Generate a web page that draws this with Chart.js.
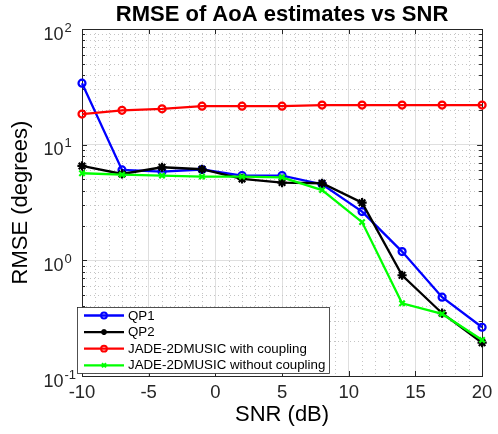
<!DOCTYPE html>
<html>
<head>
<meta charset="utf-8">
<script src="https://cdn.jsdelivr.net/npm/chart.js@4.4.1/dist/chart.umd.min.js"></script>
<style>
  html, body { margin: 0; padding: 0; background: #ffffff; }
  #wrap { width: 498px; height: 434px; }
</style>
</head>
<body>
<div id="wrap"><canvas id="c" width="498" height="434"></canvas></div>
<script>
// ---- data ----
const snr = [-10, -7, -4, -1, 2, 5, 8, 11, 14, 17, 20];
const qp1 = [34.0, 6.05, 5.85, 6.1, 5.4, 5.4, 4.55, 2.64, 1.19, 0.48, 0.264];
const qp2 = [6.55, 5.58, 6.38, 6.13, 5.06, 4.70, 4.64, 3.15, 0.743, 0.349, 0.194];
const jadeWith = [18.4, 19.8, 20.4, 21.5, 21.5, 21.5, 22.0, 22.0, 22.0, 22.0, 22.0];
const jadeWithout = [5.66, 5.51, 5.40, 5.29, 5.29, 5.22, 4.05, 2.14, 0.425, 0.344, 0.205];

const seriesLabels = ['QP1', 'QP2', 'JADE-2DMUSIC with coupling', 'JADE-2DMUSIC without coupling'];
const xTickValues = [-10, -5, 0, 5, 10, 15, 20];
const yTickExponents = [-1, 0, 1, 2];
const titleText = 'RMSE of AoA estimates vs SNR';
const xTitle = 'SNR (dB)';
const yTitle = 'RMSE (degrees)';

const FONT = '"Liberation Sans", Arial, Helvetica, sans-serif';
const AXIS_COLOR = '#262626';
const MAJOR_GRID = '#dfdfdf';
const MINOR_GRID = '#c4c4c4';

function pts(ys) { return snr.map((x, i) => ({ x: x, y: ys[i] })); }

function makeSet(label, color, style, data, order, radius) {
  return {
    label: label, data: pts(data), borderColor: color, backgroundColor: color,
    pointBorderColor: color, pointBackgroundColor: 'rgba(0,0,0,0)',
    pointStyle: style, pointRadius: radius, pointHoverRadius: radius,
    pointBorderWidth: 2.2, borderWidth: 2.3, tension: 0, fill: false,
    clip: false, order: order
  };
}

const datasets = [
  makeSet(seriesLabels[0], '#0000ff', 'circle', qp1, 4, 3.5),
  makeSet(seriesLabels[1], '#000000', 'star', qp2, 3, 4.6),
  makeSet(seriesLabels[2], '#ff0000', 'circle', jadeWith, 2, 3.5),
  makeSet(seriesLabels[3], '#00ff00', 'crossRot', jadeWithout, 1, 3.8)
];

const matlabAxes = {
  id: 'matlabAxes',
  beforeDatasetsDraw(chart) {
    const ctx = chart.ctx, a = chart.chartArea;
    const xs = chart.scales.x, ys = chart.scales.y;
    ctx.save();
    // minor dotted grid
    ctx.strokeStyle = MINOR_GRID;
    ctx.lineWidth = 1;
    ctx.setLineDash([1, 3]);
    for (let v = xs.min; v <= xs.max; v += 1) {
      if (v % 5 === 0) continue;
      const px = Math.round(xs.getPixelForValue(v)) + 0.5;
      ctx.beginPath(); ctx.moveTo(px, a.top); ctx.lineTo(px, a.bottom); ctx.stroke();
    }
    for (let e = -1; e < 2; e++) {
      for (let k = 2; k <= 9; k++) {
        const py = Math.round(ys.getPixelForValue(k * Math.pow(10, e))) + 0.5;
        ctx.beginPath(); ctx.moveTo(a.left, py); ctx.lineTo(a.right, py); ctx.stroke();
      }
    }
    ctx.setLineDash([]);
    // frame
    ctx.strokeStyle = AXIS_COLOR;
    ctx.lineWidth = 1;
    ctx.strokeRect(Math.round(a.left) + 0.5, Math.round(a.top) + 0.5,
                   Math.round(a.right - a.left), Math.round(a.bottom - a.top));
    // inside ticks
    ctx.beginPath();
    xTickValues.forEach(v => {
      const px = Math.round(xs.getPixelForValue(v)) + 0.5;
      ctx.moveTo(px, a.bottom); ctx.lineTo(px, a.bottom - 5);
      ctx.moveTo(px, a.top); ctx.lineTo(px, a.top + 5);
    });
    for (let e = -1; e <= 2; e++) {
      for (let k = 1; k <= 9; k++) {
        const val = k * Math.pow(10, e);
        if (val > 100.0001) break;
        const len = k === 1 ? 5 : 3;
        const py = Math.round(ys.getPixelForValue(val)) + 0.5;
        ctx.moveTo(a.left, py); ctx.lineTo(a.left + len, py);
        ctx.moveTo(a.right, py); ctx.lineTo(a.right - len, py);
      }
    }
    ctx.stroke();
    // y tick labels 10^n
    ctx.fillStyle = AXIS_COLOR;
    ctx.textBaseline = 'alphabetic';
    yTickExponents.forEach(e => {
      const py = ys.getPixelForValue(Math.pow(10, e));
      const baseRight = a.left - 18.5;
      ctx.font = '18px ' + FONT;
      ctx.textAlign = 'right';
      ctx.fillText('10', baseRight, py + 10.8);
      ctx.font = '13px ' + FONT;
      ctx.textAlign = 'left';
      ctx.fillText(String(e), baseRight + 1, py + 2.8);
    });
    ctx.restore();
  },
  afterDraw(chart) {
    const ctx = chart.ctx, a = chart.chartArea;
    const bx = a.left - 4.5, by = 307.5, bw = 252, bh = 66;
    ctx.save();
    ctx.fillStyle = '#ffffff';
    ctx.fillRect(bx, by, bw, bh);
    ctx.strokeStyle = AXIS_COLOR;
    ctx.lineWidth = 0.8;
    ctx.strokeRect(bx, by, bw, bh);
    chart.data.datasets.forEach((ds, i) => {
      const yy = by + 8 + i * 16.6;
      ctx.strokeStyle = ds.borderColor;
      ctx.lineWidth = 2.3;
      ctx.beginPath(); ctx.moveTo(bx + 6.5, yy); ctx.lineTo(bx + 46.5, yy); ctx.stroke();
      ctx.fillStyle = 'rgba(0,0,0,0)';
      ctx.lineWidth = 2;
      Chart.helpers.drawPoint(ctx, { pointStyle: ds.pointStyle, radius: 2.9, rotation: 0, borderWidth: 2 }, bx + 26.5, yy);
      ctx.fillStyle = '#000000';
      ctx.font = '13.3px ' + FONT;
      ctx.textAlign = 'left';
      ctx.textBaseline = 'middle';
      ctx.fillText(ds.label, bx + 50.5, yy + 0.5);
    });
    ctx.restore();
  }
};

new Chart(document.getElementById('c'), {
  type: 'line',
  data: { datasets: datasets },
  plugins: [matlabAxes],
  options: {
    responsive: false,
    animation: false,
    events: [],
    layout: { padding: { left: 0, right: 10, top: 0, bottom: 0 } },
    plugins: {
      legend: { display: false },
      tooltip: { enabled: false },
      title: {
        display: true, text: titleText, fullSize: false, color: '#000000',
        font: { family: FONT, size: 22, weight: 'bold' },
        padding: { top: 1.6, bottom: 1 }
      }
    },
    scales: {
      x: {
        type: 'linear', min: -10, max: 20,
        ticks: {
          stepSize: 5, autoSkip: false, maxRotation: 0, padding: 5.6,
          color: AXIS_COLOR, font: { family: FONT, size: 18.5 },
          callback: v => (xTickValues.includes(v) ? String(v) : '')
        },
        grid: { color: MAJOR_GRID, drawTicks: false, lineWidth: 1 },
        border: { display: false },
        title: {
          display: true, text: xTitle, color: '#000000',
          font: { family: FONT, size: 22 }, padding: { top: 0, bottom: 6 }
        },
        afterFit: s => { s.height = 58; }
      },
      y: {
        type: 'logarithmic', min: 0.1, max: 100,
        ticks: { display: false },
        grid: {
          drawTicks: false, lineWidth: 1,
          color: c => {
            const v = c.tick ? c.tick.value : 0;
            const l = Math.log10(v);
            return Math.abs(l - Math.round(l)) < 1e-6 ? MAJOR_GRID : 'rgba(0,0,0,0)';
          }
        },
        border: { display: false },
        title: {
          display: true, text: yTitle, color: '#000000',
          font: { family: FONT, size: 22 }, padding: { top: 7.8, bottom: 0 }
        },
        afterFit: s => { s.width = 82; }
      }
    }
  }
});
</script>
</body>
</html>
